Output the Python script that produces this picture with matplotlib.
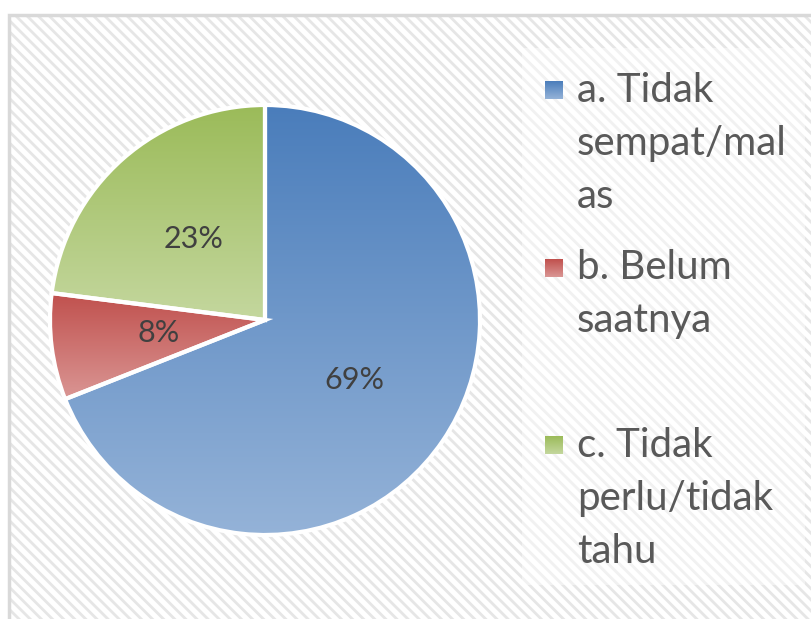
import matplotlib
matplotlib.use('Agg')
import matplotlib.pyplot as plt
import numpy as np
from matplotlib.patches import Rectangle
from matplotlib.colors import LinearSegmentedColormap

# data
labels = ['a. Tidak\nsempat/mal\nas', 'b. Belum\nsaatnya', 'c. Tidak\nperlu/tidak\ntahu']
values = [69, 8, 23]
top_colors = ['#4A7DBB', '#C0504D', '#9BBB59']
bottom_colors = ['#95B3D8', '#DA9694', '#C4D79E']

W, H = 811, 619
plt.rcParams['font.family'] = ['Lato', 'DejaVu Sans']
plt.rcParams['hatch.linewidth'] = 2.0

fig = plt.figure(figsize=(W / 100, H / 100), dpi=100)
ax = fig.add_axes([0, 0, 1, 1])

# background with diagonal texture + grey frame
ax.add_patch(Rectangle((9, -10), W + 20, H - 15 + 10, facecolor='white',
                       edgecolor='#E6E6E6', hatch='\\\\\\', linewidth=0, zorder=0))
ax.add_patch(Rectangle((9, -10), W + 20, H - 15 + 10, facecolor='none',
                       edgecolor='#D9D9D9', linewidth=2.5, zorder=1))
# legend box (slightly lighter)
ax.add_patch(Rectangle((522, H - 585), 283, 537, facecolor='white', alpha=0.45,
                       edgecolor='none', zorder=1))

# pie
center = (265, H - 320)
radius = 215
wedges, texts, autotexts = ax.pie(values, startangle=90, counterclock=False,
                                  center=center, radius=radius,
                                  autopct='%.0f%%', pctdistance=0.5,
                                  wedgeprops=dict(facecolor='none', edgecolor='white',
                                                  linewidth=3, zorder=5),
                                  textprops=dict(fontsize=22, color='#404040'),
                                  frame=True)

grad = np.linspace(0, 1, 256).reshape(-1, 1)
for w, c1, c2 in zip(wedges, top_colors, bottom_colors):
    verts = w.get_path().vertices
    x0, y0 = verts.min(axis=0)
    x1, y1 = verts.max(axis=0)
    cmap = LinearSegmentedColormap.from_list('g', [c2, c1])
    im = ax.imshow(grad, cmap=cmap, extent=(x0, x1, y0, y1), origin='lower',
                   aspect='auto', zorder=3)
    im.set_clip_path(w)
for t in autotexts:
    t.set_zorder(6)

# legend
legend_y = [90, 268, 445]
first_baseline = [102, 279, 457]
for lab, yy, yb, c1, c2 in zip(labels, legend_y, first_baseline, top_colors, bottom_colors):
    cmap = LinearSegmentedColormap.from_list('g', [c2, c1])
    ax.imshow(grad, cmap=cmap, extent=(545, 563, H - yy - 9, H - yy + 9),
              origin='lower', aspect='auto', zorder=3)
    for i, line in enumerate(lab.split('\n')):
        ax.text(577, H - yb - i * 53, line, fontsize=29, color='#595959',
                va='baseline', ha='left', zorder=6)

ax.set_xlim(0, W)
ax.set_ylim(0, H)
ax.set_aspect('auto')
ax.axis('off')
fig.savefig('out.png', dpi=100)
